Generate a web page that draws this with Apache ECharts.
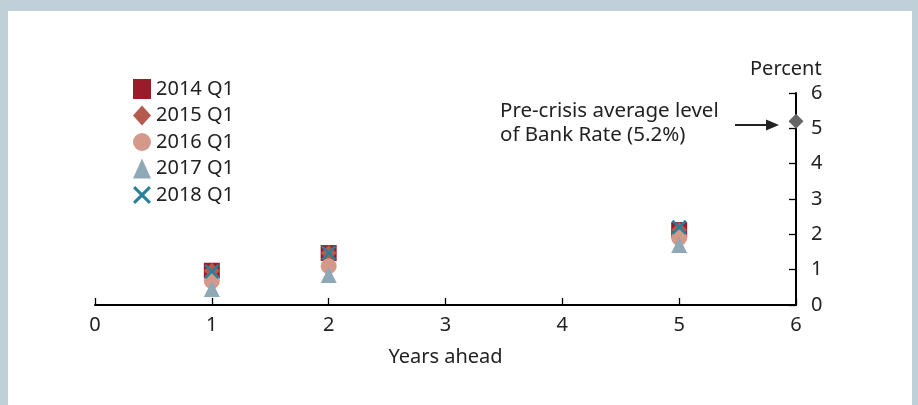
<!DOCTYPE html>
<html><head><meta charset="utf-8">
<script src="https://cdn.jsdelivr.net/npm/echarts@6/dist/echarts.min.js"></script>
<style>
html,body{margin:0;padding:0;background:#bfd0d8;}
#panel{position:absolute;left:8px;top:11px;width:904px;height:394px;background:#fff;}
#c{position:absolute;left:0;top:0;width:918px;height:405px;}
</style></head><body>
<div id="panel"></div>
<div id="c"></div>
<script>
const years = [1, 2, 5];
const s2014 = [0.97, 1.47, 2.12];
const s2015 = [0.97, 1.47, 2.12];
const s2016 = [0.68, 1.1, 1.9];
const s2017 = [0.45, 0.85, 1.7];
const s2018 = [0.95, 1.47, 2.2];
const preCrisis = [[6, 5.2]];
const xTicks = [0, 1, 2, 3, 4, 5, 6];
const yTicks = [0, 1, 2, 3, 4, 5, 6];

const crossPath = 'path://M0,1.2 L1.2,0 L5,3.8 L8.8,0 L10,1.2 L6.2,5 L10,8.8 L8.8,10 L5,6.2 L1.2,10 L0,8.8 L3.8,5 Z';
const font = 'Noto Sans';
const fs = 20;
const chart = echarts.init(document.getElementById('c'));
function pts(arr){ return years.map((y,i)=>[y,arr[i]]); }
chart.setOption({
  animation:false,
  textStyle:{fontFamily:font},
  grid:{left:95,right:122,top:93,bottom:100},
  legend:{
    orient:'vertical', left:128, top:74, itemGap:6.5, itemWidth:18, itemHeight:20,
    textStyle:{fontSize:fs,color:'#222',fontFamily:font},
    data:[
      {name:'2014 Q1',icon:'rect'},
      {name:'2015 Q1',icon:'diamond'},
      {name:'2016 Q1',icon:'circle'},
      {name:'2017 Q1',icon:'triangle'},
      {name:'2018 Q1',icon:crossPath}
    ]
  },
  xAxis:{type:'value',min:0,max:6,interval:1,
    name:'Years ahead',nameLocation:'middle',nameGap:42,
    nameTextStyle:{fontSize:fs,color:'#222'},
    axisLine:{lineStyle:{color:'#000',width:2}},
    axisTick:{inside:true,length:7,lineStyle:{color:'#000',width:1.3}},
    axisLabel:{fontSize:fs,color:'#222',margin:10,formatter:v=>xTicks.includes(v)?String(v):''},
    splitLine:{show:false}},
  yAxis:{type:'value',position:'right',min:0,max:6,interval:1,
    axisLine:{show:true,onZero:false,lineStyle:{color:'#000',width:2}},
    axisTick:{show:true,inside:true,length:7,lineStyle:{color:'#000',width:1.3}},
    axisLabel:{fontSize:fs,color:'#222',margin:15,formatter:v=>yTicks.includes(v)?String(v):''},
    splitLine:{show:false}},
  graphic:[
    {type:'text',left:750,top:59,style:{text:'Percent',fontSize:fs,fill:'#222',fontFamily:font}},
    {type:'text',left:500,top:99,style:{text:'Pre-crisis average level\nof Bank Rate (5.2%)',fontSize:20.5,lineHeight:24,fill:'#222',fontFamily:font}},
    {type:'line',shape:{x1:735,y1:125,x2:768,y2:125},style:{stroke:'#222',lineWidth:2.2}},
    {type:'polygon',shape:{points:[[779,125],[766,119.5],[766,130.5]]},style:{fill:'#222'}}
  ],
  series:[
    {name:'2014 Q1',type:'scatter',symbol:'rect',symbolSize:16,itemStyle:{color:'#9b1b2a',opacity:1},data:pts(s2014),z:2},
    {name:'2015 Q1',type:'scatter',symbol:'diamond',symbolSize:16,itemStyle:{color:'#b55a4e',opacity:1},data:pts(s2015),z:3},
    {name:'2016 Q1',type:'scatter',symbol:'circle',symbolSize:16,itemStyle:{color:'#d4998a',opacity:1},data:pts(s2016),z:4},
    {name:'2017 Q1',type:'scatter',symbol:'triangle',symbolSize:16,itemStyle:{color:'#8fa8b5',opacity:1},data:pts(s2017),z:5},
    {name:'2018 Q1',type:'scatter',symbol:crossPath,symbolSize:15,itemStyle:{color:'#2a7f9a',opacity:1},data:pts(s2018),z:6},
    {name:'Pre-crisis',type:'scatter',symbol:'diamond',symbolSize:15,itemStyle:{color:'#666',opacity:1},data:preCrisis,z:7}
  ]
});
</script></body></html>
